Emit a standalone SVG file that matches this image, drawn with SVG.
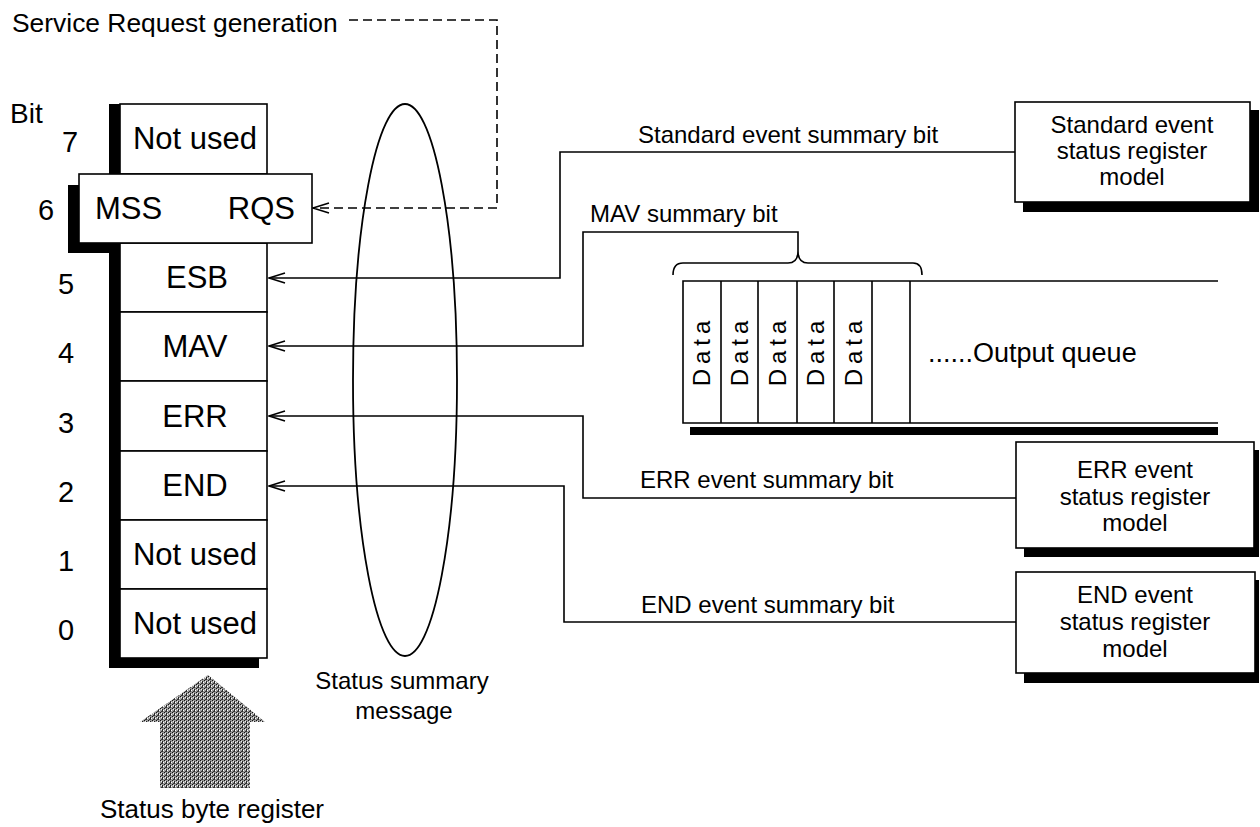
<svg xmlns="http://www.w3.org/2000/svg" width="1260" height="827" viewBox="0 0 1260 827">
<style>
text{font-family:"Liberation Sans",Arial,sans-serif;fill:#000}
.cell{fill:#fff;stroke:#000;stroke-width:1.6}
.shadow{fill:#000}
.big{font-size:31px}
.num{font-size:29px}
.lbl{font-size:24px}
.conn{fill:none;stroke:#000;stroke-width:1.6}
.dash{fill:none;stroke:#000;stroke-width:1.6;stroke-dasharray:9 5}
.mid{text-anchor:middle}
</style>
<defs>
<marker id="arr" viewBox="0 0 18 12" refX="17" refY="6" markerWidth="18" markerHeight="12" markerUnits="userSpaceOnUse" orient="auto">
<path d="M1,1 L17,6 L1,11" fill="none" stroke="#000" stroke-width="1.6"/>
</marker>
<pattern id="dither" width="4" height="4" patternUnits="userSpaceOnUse">
<rect width="4" height="4" fill="#9a9a9a"/>
<rect x="0" y="0" width="1" height="1" fill="#111"/>
<rect x="2" y="1" width="1" height="2" fill="#222"/>
<rect x="1" y="3" width="2" height="1" fill="#333"/>
<rect x="3" y="2" width="1" height="1" fill="#fff"/>
<rect x="1" y="1" width="1" height="1" fill="#eee"/>
</pattern>
</defs>

<text id="srg" x="12" y="32" style="font-size:26.4px">Service Request generation</text>

<g id="register">
<text x="10" y="123" style="font-size:28px">Bit</text>
<rect class="shadow" x="109" y="104" width="11" height="564"/>
<rect class="shadow" x="109" y="658" width="150" height="10"/>
<g id="bit7">
<rect class="cell" x="120" y="104" width="147" height="70"/>
<text class="num" x="62" y="152">7</text>
<text class="big mid" x="195" y="149">Not used</text>
</g>
<g id="bit5">
<rect class="cell" x="120" y="243" width="147" height="69"/>
<text class="num" x="58" y="294">5</text>
<text class="big mid" x="197" y="288">ESB</text>
</g>
<g id="bit4">
<rect class="cell" x="120" y="312" width="147" height="69"/>
<text class="num" x="58" y="363">4</text>
<text class="big mid" x="195" y="357">MAV</text>
</g>
<g id="bit3">
<rect class="cell" x="120" y="381" width="147" height="70"/>
<text class="num" x="58" y="433">3</text>
<text class="big mid" x="195" y="427">ERR</text>
</g>
<g id="bit2">
<rect class="cell" x="120" y="451" width="147" height="69"/>
<text class="num" x="58" y="502">2</text>
<text class="big mid" x="195" y="496">END</text>
</g>
<g id="bit1">
<rect class="cell" x="120" y="520" width="147" height="69"/>
<text class="num" x="58" y="571">1</text>
<text class="big mid" x="195" y="565">Not used</text>
</g>
<g id="bit0">
<rect class="cell" x="120" y="589" width="147" height="69"/>
<text class="num" x="58" y="640">0</text>
<text class="big mid" x="195" y="634">Not used</text>
</g>
<g id="bit6">
<rect class="shadow" x="68" y="185" width="11" height="68"/>
<rect class="shadow" x="68" y="243" width="52" height="10"/>
<rect class="cell" x="79" y="174" width="233" height="69"/>
<text class="num" x="38" y="220">6</text>
<text class="big" x="95" y="219">MSS</text>
<text class="big" x="295" y="219" text-anchor="end">RQS</text>
</g>
</g>

<g id="ellipse">
<ellipse cx="405" cy="380" rx="52" ry="276" fill="none" stroke="#000" stroke-width="1.8"/>
<text class="lbl mid" x="402" y="689">Status summary</text>
<text class="lbl mid" x="404" y="719">message</text>
</g>

<g id="sbr-arrow">
<polygon points="208,675 265,722 250,722 250,788 160,788 160,722 140,722" fill="url(#dither)"/>
<text class="mid" x="212" y="818" style="font-size:26px">Status byte register</text>
</g>

<g id="std-box">
<rect class="shadow" x="1023" y="110" width="236" height="102"/>
<rect class="cell" x="1015" y="102" width="235" height="100"/>
<text class="lbl mid" x="1132" y="133">Standard event</text>
<text class="lbl mid" x="1132" y="159">status register</text>
<text class="lbl mid" x="1132" y="185">model</text>
</g>

<g id="err-box">
<rect class="shadow" x="1024" y="450" width="235" height="107"/>
<rect class="cell" x="1016" y="442" width="238" height="106"/>
<text class="lbl mid" x="1135" y="478">ERR event</text>
<text class="lbl mid" x="1135" y="505">status register</text>
<text class="lbl mid" x="1135" y="531">model</text>
</g>

<g id="end-box">
<rect class="shadow" x="1024" y="580" width="235" height="103"/>
<rect class="cell" x="1016" y="572" width="239" height="101"/>
<text class="lbl mid" x="1135" y="603">END event</text>
<text class="lbl mid" x="1135" y="630">status register</text>
<text class="lbl mid" x="1135" y="657">model</text>
</g>

<g id="queue">
<rect class="shadow" x="690" y="427" width="528" height="8"/>
<path class="conn" d="M1218,281 H683 V423 H1218 M721,281 V423 M758,281 V423 M797,281 V423 M834,281 V423 M872,281 V423 M910,281 V423"/>
<g class="lbl" style="letter-spacing:5px">
<text transform="translate(710,351) rotate(-90)" text-anchor="middle">Data</text>
<text transform="translate(748,351) rotate(-90)" text-anchor="middle">Data</text>
<text transform="translate(786,351) rotate(-90)" text-anchor="middle">Data</text>
<text transform="translate(824,351) rotate(-90)" text-anchor="middle">Data</text>
<text transform="translate(862,351) rotate(-90)" text-anchor="middle">Data</text>
</g>
<text x="928" y="362" style="font-size:27px">......Output queue</text>
<path class="conn" d="M673,275 Q673,263 683,263 H788 Q798,263 798,251 Q798,263 808,263 H913 Q922,263 922,275"/>
</g>

<g id="connectors">
<path class="dash" d="M349,20 H497 V208 H313" marker-end="url(#arr)"/>
<path class="conn" d="M1015,152 H560 V278 H269" marker-end="url(#arr)"/>
<path class="conn" d="M798,251 V232 H583 V346 H269" marker-end="url(#arr)"/>
<path class="conn" d="M1016,498 H583 V416 H269" marker-end="url(#arr)"/>
<path class="conn" d="M1016,622 H564 V486 H269" marker-end="url(#arr)"/>
<text class="lbl" x="638" y="143">Standard event summary bit</text>
<text class="lbl" x="590" y="222">MAV summary bit</text>
<text class="lbl" x="640" y="488">ERR event summary bit</text>
<text class="lbl" x="641" y="613">END event summary bit</text>
</g>
</svg>
